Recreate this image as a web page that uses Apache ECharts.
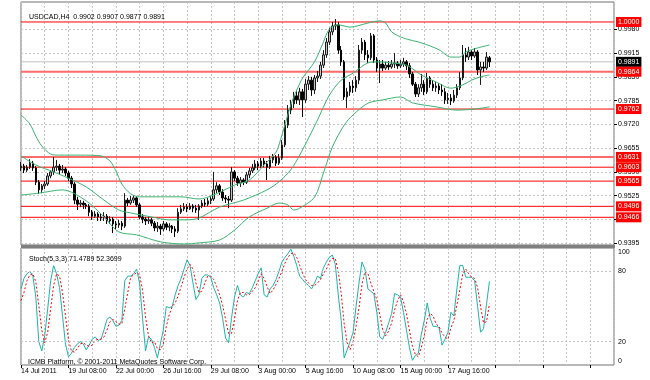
<!DOCTYPE html>
<html><head><meta charset="utf-8">
<script src="https://cdn.jsdelivr.net/npm/echarts@6/dist/echarts.min.js"></script>
<style>html,body{margin:0;padding:0;background:#fff}#c{width:650px;height:380px}</style>
</head><body><div id="c"></div>
<script>
const symbolTitle = 'USDCAD,H4  0.9902 0.9907 0.9877 0.9891';
const stochTitle = 'Stoch(5,3,3) 71.4789 52.3699';
const copyright = 'ICMB Platform, \u00a9 2001-2011 MetaQuotes Software Corp.';
const timeLabels = ['14 Jul 2011','19 Jul 08:00','22 Jul 00:00','26 Jul 16:00','29 Jul 08:00','3 Aug 00:00','5 Aug 16:00','10 Aug 08:00','15 Aug 00:00','17 Aug 16:00'];
const priceTicks = [0.9395,0.9460,0.9525,0.9590,0.9655,0.9720,0.9785,0.9850,0.9915,0.9980];
const stochTicks = [0,20,80,100];
const stochLevels = [20,80];
const levelLines = [1.0000,0.9864,0.9762,0.9631,0.9603,0.9565,0.9496,0.9466];
const thickLevels = [0.9864,0.9631];
const bidPrice = 0.9891;

// [open, close, low, high]
const candles = [
[0.9601,0.9606,0.9593,0.9617],[0.9606,0.9595,0.9587,0.9612],[0.9595,0.9603,0.9590,0.9609],[0.9603,0.9614,0.9598,0.9625],[0.9614,0.9601,0.9593,0.9620],
[0.9601,0.9562,0.9554,0.9606],[0.9562,0.9541,0.9530,0.9568],[0.9541,0.9552,0.9532,0.9557],[0.9552,0.9557,0.9543,0.9565],[0.9557,0.9579,0.9552,0.9587],
[0.9579,0.9590,0.9573,0.9595],[0.9590,0.9603,0.9582,0.9631],[0.9603,0.9606,0.9593,0.9623],[0.9606,0.9595,0.9584,0.9612],[0.9595,0.9598,0.9587,0.9609],
[0.9598,0.9587,0.9579,0.9603],[0.9587,0.9573,0.9565,0.9593],[0.9573,0.9557,0.9546,0.9579],[0.9557,0.9513,0.9502,0.9562],[0.9513,0.9502,0.9486,0.9522],
[0.9502,0.9505,0.9494,0.9513],[0.9505,0.9500,0.9489,0.9511],[0.9500,0.9497,0.9489,0.9505],[0.9497,0.9480,0.9469,0.9502],[0.9480,0.9469,0.9459,0.9486],
[0.9469,0.9475,0.9464,0.9483],[0.9475,0.9467,0.9456,0.9480],[0.9467,0.9464,0.9456,0.9475],[0.9464,0.9469,0.9456,0.9480],[0.9469,0.9456,0.9448,0.9475],
[0.9456,0.9461,0.9448,0.9469],[0.9461,0.9448,0.9423,0.9467],[0.9448,0.9445,0.9434,0.9456],[0.9445,0.9450,0.9437,0.9459],[0.9450,0.9442,0.9431,0.9456],
[0.9442,0.9513,0.9437,0.9532],[0.9513,0.9505,0.9497,0.9519],[0.9505,0.9513,0.9500,0.9524],[0.9513,0.9519,0.9505,0.9527],[0.9519,0.9500,0.9494,0.9524],
[0.9500,0.9467,0.9461,0.9505],[0.9467,0.9461,0.9450,0.9475],[0.9461,0.9456,0.9445,0.9467],[0.9456,0.9459,0.9448,0.9467],[0.9459,0.9450,0.9442,0.9464],
[0.9450,0.9437,0.9428,0.9456],[0.9437,0.9442,0.9426,0.9453],[0.9442,0.9434,0.9418,0.9448],[0.9434,0.9448,0.9428,0.9456],[0.9448,0.9439,0.9431,0.9453],
[0.9439,0.9442,0.9428,0.9450],[0.9442,0.9434,0.9423,0.9445],[0.9434,0.9428,0.9412,0.9442],[0.9428,0.9480,0.9423,0.9491],[0.9480,0.9489,0.9475,0.9500],
[0.9489,0.9494,0.9483,0.9505],[0.9494,0.9489,0.9480,0.9502],[0.9489,0.9497,0.9486,0.9505],[0.9497,0.9491,0.9480,0.9502],[0.9491,0.9486,0.9478,0.9500],
[0.9486,0.9497,0.9459,0.9502],[0.9497,0.9505,0.9491,0.9513],[0.9505,0.9502,0.9494,0.9516],[0.9502,0.9511,0.9497,0.9519],[0.9511,0.9516,0.9502,0.9524],
[0.9516,0.9541,0.9511,0.9590],[0.9541,0.9552,0.9532,0.9562],[0.9552,0.9535,0.9527,0.9557],[0.9535,0.9519,0.9511,0.9543],[0.9519,0.9516,0.9505,0.9527],
[0.9516,0.9513,0.9491,0.9524],[0.9513,0.9590,0.9508,0.9603],[0.9590,0.9573,0.9565,0.9595],[0.9573,0.9560,0.9552,0.9579],[0.9560,0.9568,0.9549,0.9576],
[0.9568,0.9562,0.9554,0.9573],[0.9562,0.9582,0.9557,0.9590],[0.9582,0.9593,0.9573,0.9601],[0.9593,0.9601,0.9587,0.9612],[0.9601,0.9612,0.9595,0.9623],
[0.9612,0.9606,0.9595,0.9620],[0.9606,0.9620,0.9601,0.9628],[0.9620,0.9612,0.9603,0.9628],[0.9612,0.9603,0.9568,0.9620],[0.9603,0.9623,0.9598,0.9634],
[0.9623,0.9631,0.9614,0.9639],[0.9631,0.9614,0.9606,0.9636],[0.9614,0.9628,0.9609,0.9639],[0.9628,0.9664,0.9623,0.9677],[0.9664,0.9718,0.9658,0.9732],
[0.9718,0.9759,0.9710,0.9773],[0.9759,0.9776,0.9748,0.9787],[0.9776,0.9798,0.9765,0.9809],[0.9798,0.9787,0.9776,0.9811],[0.9787,0.9809,0.9773,0.9820],
[0.9809,0.9787,0.9740,0.9817],[0.9787,0.9830,0.9779,0.9844],[0.9830,0.9841,0.9814,0.9852],[0.9841,0.9814,0.9798,0.9850],[0.9814,0.9847,0.9803,0.9855],
[0.9847,0.9852,0.9836,0.9866],[0.9852,0.9882,0.9844,0.9891],[0.9882,0.9910,0.9874,0.9923],[0.9910,0.9945,0.9902,0.9956],[0.9945,0.9973,0.9937,0.9984],
[0.9973,0.9989,0.9964,1.0000],[0.9989,0.9992,0.9978,1.0008],[0.9992,0.9923,0.9913,1.0000],[0.9923,0.9891,0.9880,0.9934],[0.9891,0.9795,0.9787,0.9896],
[0.9795,0.9809,0.9765,0.9820],[0.9809,0.9825,0.9798,0.9836],[0.9825,0.9820,0.9806,0.9841],[0.9820,0.9841,0.9809,0.9852],[0.9841,0.9923,0.9830,0.9937],
[0.9923,0.9945,0.9913,0.9956],[0.9945,0.9910,0.9896,0.9951],[0.9910,0.9902,0.9888,0.9923],[0.9902,0.9962,0.9896,0.9970],[0.9962,0.9896,0.9888,0.9967],
[0.9896,0.9874,0.9863,0.9904],[0.9874,0.9885,0.9833,0.9896],[0.9885,0.9874,0.9866,0.9896],[0.9874,0.9882,0.9869,0.9891],[0.9882,0.9877,0.9869,0.9893],
[0.9877,0.9885,0.9872,0.9896],[0.9885,0.9888,0.9874,0.9915],[0.9888,0.9880,0.9872,0.9893],[0.9880,0.9885,0.9874,0.9896],[0.9885,0.9891,0.9877,0.9902],
[0.9891,0.9880,0.9869,0.9896],[0.9880,0.9858,0.9847,0.9888],[0.9858,0.9830,0.9825,0.9863],[0.9830,0.9803,0.9795,0.9836],[0.9803,0.9820,0.9795,0.9830],
[0.9820,0.9830,0.9809,0.9858],[0.9830,0.9809,0.9800,0.9841],[0.9809,0.9847,0.9803,0.9861],[0.9847,0.9830,0.9820,0.9852],[0.9830,0.9820,0.9811,0.9841],
[0.9820,0.9825,0.9809,0.9836],[0.9825,0.9814,0.9803,0.9833],[0.9814,0.9809,0.9798,0.9830],[0.9809,0.9787,0.9776,0.9820],[0.9787,0.9792,0.9776,0.9806],
[0.9792,0.9784,0.9773,0.9803],[0.9784,0.9800,0.9779,0.9814],[0.9800,0.9820,0.9792,0.9830],[0.9820,0.9847,0.9814,0.9863],[0.9847,0.9910,0.9841,0.9937],
[0.9910,0.9904,0.9891,0.9929],[0.9904,0.9918,0.9896,0.9932],[0.9918,0.9907,0.9896,0.9923],[0.9907,0.9918,0.9902,0.9929],[0.9918,0.9869,0.9855,0.9923],
[0.9869,0.9877,0.9828,0.9891],[0.9877,0.9874,0.9863,0.9891],[0.9874,0.9904,0.9869,0.9918],[0.9902,0.9891,0.9877,0.9907]
];

// Bollinger bands: [bar index, price]
const bbUpper = [[0,0.9746],[3,0.9721],[5,0.9688],[7,0.9661],[10,0.9639],[13,0.9636],[20,0.9636],[27,0.9634],[30,0.9620],[32,0.9593],[34,0.9557],[37,0.9530],[40,0.9522],[47,0.9522],[54,0.9522],[60,0.9516],[65,0.9527],[72,0.9554],[77,0.9568],[82,0.9609],[86,0.9644],[88,0.9691],[91,0.9773],[93,0.9814],[95,0.9847],[99,0.9891],[102,0.9945],[104,0.9981],[107,0.9992],[111,0.9986],[117,0.9997],[121,1.0003],[123,0.9997],[125,0.9973],[129,0.9956],[135,0.9943],[141,0.9924],[145,0.9904],[148,0.9904],[150,0.9918],[154,0.9929],[158,0.9937]];
const bbMiddle = [[0,0.9634],[5,0.9609],[11,0.9590],[16,0.9573],[22,0.9549],[28,0.9513],[33,0.9486],[37,0.9478],[44,0.9467],[50,0.9459],[56,0.9459],[60,0.9464],[67,0.9494],[75,0.9513],[83,0.9541],[87,0.9563],[91,0.9596],[94,0.9636],[97,0.9683],[100,0.9732],[104,0.9800],[108,0.9841],[112,0.9860],[117,0.9888],[121,0.9891],[125,0.9888],[130,0.9882],[135,0.9855],[140,0.9836],[145,0.9819],[149,0.9828],[152,0.9841],[155,0.9850],[158,0.9855]];
const bbLower = [[0,0.9527],[6,0.9532],[14,0.9541],[22,0.9511],[28,0.9467],[33,0.9426],[39,0.9418],[47,0.9399],[55,0.9393],[60,0.9396],[67,0.9404],[72,0.9431],[77,0.9467],[83,0.9491],[87,0.9505],[90,0.9500],[92,0.9486],[94,0.9491],[99,0.9521],[102,0.9587],[105,0.9658],[109,0.9718],[112,0.9746],[117,0.9778],[122,0.9787],[128,0.9795],[132,0.9779],[140,0.9768],[147,0.9759],[153,0.9762],[158,0.9768]];

const stochMain = [65,74,78,80,76,58,20,12,25,48, 72,85,78,66,42,18,7,10,15,18, 20,18,13,17,22,24,21,22,30,39, 41,38,33,34,38,72,76,76,78,82, 70,40,12,24,22,15,6,18,30,50, 49,50,60,68,74,82,90,85,70,56, 60,74,77,77,75,66,60,53,40,23, 19,40,58,68,60,58,62,61,66,72, 78,83,60,58,65,68,73,80,88,92, 95,99,93,85,76,73,70,68,65,70, 76,74,83,88,92,94,86,60,38,6, 13,20,28,50,70,88,82,65,63,61, 45,24,22,28,36,44,61,60,58,45, 30,15,4,8,10,26,38,53,40,33, 33,32,17,22,28,45,42,65,85,85, 75,75,75,72,50,28,31,52,71.4789];
const stochSignal = [55,62,72,77,78,71,51,30,19,28, 48,68,78,76,62,42,22,12,11,14, 18,19,17,16,17,21,22,22,24,30, 37,39,37,35,35,48,62,75,77,79, 77,64,41,25,19,20,14,13,18,33, 43,50,53,59,67,75,82,86,82,70, 62,63,70,76,76,73,67,60,51,39, 27,27,39,55,62,62,60,60,63,66, 72,78,74,67,61,64,69,74,80,87, 92,95,96,92,85,78,73,70,68,68, 70,73,78,82,88,91,91,80,61,35, 19,13,20,33,49,69,80,78,70,63, 56,43,30,25,29,36,47,55,60,54, 44,30,16,9,7,15,25,39,44,42, 35,33,27,24,22,32,38,51,64,78, 82,78,75,74,66,50,36,37,52.3699];

const FONT = '"Liberation Sans", Arial, sans-serif';
const NCAT = 201;
const cats = Array.from({length: NCAT}, (_, i) => String(i));
const gridDash = {type: [2, 2], color: '#c4c4c4', width: 1};

const chart = echarts.init(document.getElementById('c'), null, {renderer: 'canvas'});

function levelSeries(v, color, width, bg) {
  return {
    type: 'line', xAxisIndex: 0, yAxisIndex: 0, z: 1, silent: true, showSymbol: false, symbol: 'none',
    data: [[0, v], [NCAT - 1, v]],
    lineStyle: {color: color, width: width, type: 'solid'},
    emphasis: {disabled: true},
    endLabel: {show: true, distance: 2, formatter: v.toFixed(4), color: '#ffffff', backgroundColor: bg,
      fontSize: 7, fontFamily: FONT, padding: [1, 2, 1, 2], lineHeight: 8}
  };
}
const levelSeriesList = [levelSeries(bidPrice, '#c0c0c0', 1, '#000000')].concat(
  levelLines.map(v => thickLevels.indexOf(v) >= 0 ? levelSeries(v, '#ff6a6a', 2, '#ff0000') : levelSeries(v, '#ff0000', 1, '#ff0000'))
);

const option = {
  animation: false,
  backgroundColor: '#fff',
  textStyle: {fontFamily: FONT},
  title: [
    {text: symbolTitle, left: 24, top: 9, textStyle: {fontSize: 7, fontWeight: 'normal', color: '#000', fontFamily: FONT}},
    {text: stochTitle, left: 24, top: 251, textStyle: {fontSize: 7, fontWeight: 'normal', color: '#000', fontFamily: FONT}},
    {text: copyright, left: 23, top: 354, textStyle: {fontSize: 7, fontWeight: 'normal', color: '#000', fontFamily: FONT}}
  ],
  graphic: [
    {type: 'rect', left: 21, top: 245, shape: {width: 594, height: 3}, style: {fill: '#808080'}, silent: true}
  ],
  grid: [
    {left: 21, right: 36, top: 2, height: 243, show: true, borderColor: '#707070', borderWidth: 1, backgroundColor: '#fff'},
    {left: 21, right: 36, top: 248, height: 117, show: true, borderColor: '#707070', borderWidth: 1, backgroundColor: '#fff'}
  ],
  xAxis: [
    {type: 'category', gridIndex: 0, data: cats, boundaryGap: false,
     axisLine: {show: false}, axisTick: {show: false}, axisLabel: {show: false},
     splitLine: {show: true, interval: 7, lineStyle: gridDash}},
    {type: 'category', gridIndex: 1, data: cats, boundaryGap: false,
     axisLine: {show: false},
     axisTick: {show: true, interval: 15, length: 3, lineStyle: {color: '#000'}},
     axisLabel: {show: true, interval: 15, align: 'left', margin: 3, fontSize: 7, color: '#000', fontFamily: FONT,
       formatter: (v, i) => timeLabels[i / 16] || ''},
     splitLine: {show: true, interval: 7, lineStyle: gridDash}}
  ],
  yAxis: [
    {type: 'value', gridIndex: 0, position: 'right', min: 0.93903, max: 1.00546, scale: true,
     axisLine: {show: false},
     axisTick: {show: true, customValues: priceTicks, length: 3, lineStyle: {color: '#000'}},
     axisLabel: {show: true, customValues: priceTicks, margin: 4, fontSize: 7, color: '#000', fontFamily: FONT,
       formatter: v => v.toFixed(4)},
     splitLine: {show: true, lineStyle: gridDash}},
    {type: 'value', gridIndex: 1, position: 'right', min: 0, max: 100,
     axisLine: {show: false},
     axisTick: {show: false},
     axisLabel: {show: true, customValues: stochTicks, margin: 4, fontSize: 7, color: '#000', fontFamily: FONT,
       formatter: v => v === 100 ? '{top|100}' : (v === 0 ? '{bot|0}' : String(v)),
       rich: {top: {fontSize: 7, padding: [8, 0, 0, 0]}, bot: {fontSize: 7, padding: [0, 0, 8, 0]}}},
     splitLine: {show: false}}
  ],
  series: levelSeriesList.concat([
    {type: 'candlestick', xAxisIndex: 0, yAxisIndex: 0, data: candles, barWidth: 2, z: 3,
     itemStyle: {color: '#c4c4c4', color0: '#000', borderColor: '#1a1a1a', borderColor0: '#000', borderWidth: 1}},
    {type: 'line', xAxisIndex: 0, yAxisIndex: 0, data: bbUpper, showSymbol: false, smooth: 0.3, z: 4,
     lineStyle: {color: '#3cb371', width: 1}},
    {type: 'line', xAxisIndex: 0, yAxisIndex: 0, data: bbMiddle, showSymbol: false, smooth: 0.3, z: 4,
     lineStyle: {color: '#3cb371', width: 1}},
    {type: 'line', xAxisIndex: 0, yAxisIndex: 0, data: bbLower, showSymbol: false, smooth: 0.3, z: 4,
     lineStyle: {color: '#3cb371', width: 1}},
    {type: 'line', xAxisIndex: 1, yAxisIndex: 1, data: stochMain, showSymbol: false,
     lineStyle: {color: '#20b2aa', width: 1},
     markLine: {symbol: ['none', 'none'], silent: true, label: {show: false},
       lineStyle: {type: [2, 2], color: '#c4c4c4', width: 1},
       data: stochLevels.map(v => ({yAxis: v}))}},
    {type: 'line', xAxisIndex: 1, yAxisIndex: 1, data: stochSignal, showSymbol: false,
     lineStyle: {color: '#ff0000', width: 1, type: [2, 2]}}
  ])
};
chart.setOption(option);
</script>
</body></html>
